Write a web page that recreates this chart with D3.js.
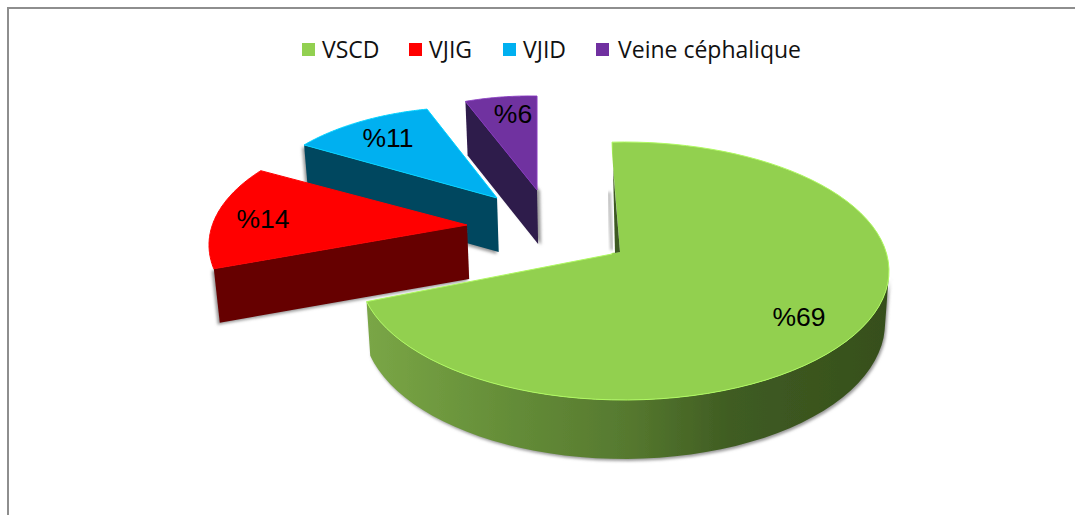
<!DOCTYPE html>
<html>
<head>
<meta charset="utf-8">
<script src="https://cdnjs.cloudflare.com/ajax/libs/d3/7.8.5/d3.min.js"></script>
<style>
html, body { margin: 0; padding: 0; background: #fff; }
svg { display: block; }
</style>
</head>
<body>
<svg id="chart" width="1075" height="515"></svg>
<script>
var categories = ["VSCD", "VJIG", "VJID", "Veine céphalique"];
var values = [69, 14, 11, 6];
var colors = ["#92d050", "#ff0000", "#00b0f0", "#7030a0"];
var wallColors = ["#3d5a20", "#660000", "#00465f", "#2f1a4c"];

// how each slice sits in the fake 3d scene: where its tip is pulled to,
// and the ellipse its rim lies on (the centre is relative to the tip)
var tips = [[612, 254], [467, 225], [497, 198], [537, 190]];
var rims = [
    {dx: 12, dy: 17, rx: 265, ry: 129, squash: 0.49, turn: 0},
    {dx: -8, dy: 20, rx: 250, ry: 122, squash: 0.46, turn: 1},
    {dx: -27, dy: 17, rx: 218, ry: 108, squash: 0.49, turn: 0.5},
    {dx: -7, dy: -3, rx: 190, ry: 91, squash: 0.49, turn: 0}
];
var depth = 54;

var svg = d3.select("#chart");
var defs = svg.append("defs");

var grad = defs.append("linearGradient").attr("id", "greenWall")
    .attr("gradientUnits", "userSpaceOnUse")
    .attr("x1", 366).attr("x2", 888).attr("y1", 0).attr("y2", 0);
[[0, "#7aa646"], [0.25, "#668f39"], [0.5, "#56792f"], [0.7, "#3f5c22"], [1, "#364f1c"]].forEach(function(s) {
    grad.append("stop").attr("offset", s[0]).attr("stop-color", s[1]);
});
defs.append("filter").attr("id", "soft").append("feGaussianBlur").attr("stdDeviation", 0.5);
defs.append("filter").attr("id", "shadow").append("feGaussianBlur").attr("stdDeviation", 1.5);

// frame, open on the right and at the bottom
svg.append("path")
    .attr("d", "M8,515V8H1075")
    .attr("fill", "none")
    .attr("stroke", "#8e8e8e")
    .attr("stroke-width", 2);

var pie = d3.pie().sort(null)(values);
var line = d3.line();

// point on the rim for a pie angle: ray from the tip hits the ellipse
var rimPoint = function(i, a) {
    var t = tips[i], r = rims[i];
    var b = a + r.turn * Math.PI / 180;
    var ux = Math.sin(b), uy = -Math.cos(b) * r.squash;
    var A = ux * ux / (r.rx * r.rx) + uy * uy / (r.ry * r.ry);
    var B = -2 * (ux * r.dx / (r.rx * r.rx) + uy * r.dy / (r.ry * r.ry));
    var C = r.dx * r.dx / (r.rx * r.rx) + r.dy * r.dy / (r.ry * r.ry) - 1;
    var s = (-B + Math.sqrt(B * B - 4 * A * C)) / (2 * A);
    return [t[0] + ux * s, t[1] + uy * s];
};

// same point on the bottom of the slab, pulled to the middle, nearer means deeper
var lower = function(p) {
    return [p[0] + (tips[0][0] - p[0]) * 0.015, p[1] + depth + Math.max(0, p[1] - 300) * 0.05];
};

var rimPoints = function(i, a0, a1) {
    return d3.range(0, 81).map(function(k) {
        return rimPoint(i, a0 + (a1 - a0) * k / 80);
    });
};

var order = [3, 2, 1, 0];
order.forEach(function(i) {
    var d = pie[i];
    var g = svg.append("g").attr("class", "slice").attr("filter", "url(#soft)");
    var outer = rimPoints(i, d.startAngle, d.endAngle);
    var tip = tips[i];

    if (i > 0) {
        // wall along the cut that faces the viewer
        var a = rimPoint(i, d.startAngle);
        var wall = [tip, a, lower(a), lower(tip)];
        g.append("path").attr("d", line(wall) + "Z")
            .attr("fill", "#9a9a9a")
            .attr("transform", i === 3 ? "translate(3,1)" : "translate(-2,2)")
            .attr("filter", "url(#shadow)");
        g.append("path").attr("d", line(wall) + "Z").attr("fill", wallColors[i]);
    } else {
        // outer wall of the big slice
        var cy = tip[1] + rims[0].dy;
        var vis = outer.filter(function(p) { return p[1] >= cy; });
        var low = vis.map(lower).reverse();
        g.append("path").attr("d", line(vis.concat(low)) + "Z")
            .attr("fill", "#9a9a9a").attr("transform", "translate(1.5,2)")
            .attr("filter", "url(#shadow)");
        g.append("path").attr("d", line(vis.concat(low)) + "Z").attr("fill", "url(#greenWall)");
    }

    // top face
    g.append("path")
        .attr("d", line([tip].concat(outer)) + "Z")
        .attr("fill", colors[i])
        .attr("stroke", d3.color(colors[i]).brighter(0.5))
        .attr("stroke-width", 1)
        .attr("stroke-linejoin", "round");

    if (i === 0) {
        // the first cut leans inward, so a thin dark strip shows beside the tip
        var top0 = rimPoint(0, 0);
        g.append("path")
            .attr("d", line([[top0[0] - 1, top0[1] - 1], [tip[0] + 8, tip[1] - 2], [tip[0] - 1, tip[1] - 1]]) + "Z")
            .attr("fill", "#fff");
        g.append("path")
            .attr("d", line([[tip[0] - 3, tip[1] - 62], [tip[0], tip[1] - 4]]))
            .attr("fill", "none").attr("stroke", "#b0b0b0").attr("stroke-width", 3)
            .attr("filter", "url(#shadow)");
        g.append("path")
            .attr("d", line([[top0[0] + 1, top0[1] + 26], [tip[0] + 8, tip[1] - 2], [tip[0] + 3, tip[1] - 1]]) + "Z")
            .attr("fill", wallColors[0]);
    }
});

// labels
var labelSpots = [[799, 317], [263, 219], [388, 138], [513, 114]];
svg.append("g").selectAll("text").data(values).enter().append("text")
    .attr("x", function(d, i) { return labelSpots[i][0]; })
    .attr("y", function(d, i) { return labelSpots[i][1] + 9; })
    .attr("text-anchor", "middle")
    .attr("font-family", "Liberation Sans")
    .attr("font-size", 26.5)
    .attr("fill", "#000")
    .text(function(d) { return "%" + d; });

// legend
var legendX = [302, 409, 503, 596];
var legend = svg.append("g").selectAll("g").data(categories).enter().append("g")
    .attr("transform", function(d, i) { return "translate(" + legendX[i] + ",0)"; });
legend.append("rect")
    .attr("y", 43).attr("width", 13).attr("height", 13)
    .attr("fill", function(d, i) { return colors[i]; });
legend.append("text")
    .attr("x", function(d, i) { return i === 3 ? 22 : 20; }).attr("y", 58)
    .attr("font-family", "Open Sans")
    .attr("font-size", 23)
    .attr("fill", "#111")
    .text(function(d) { return d; });
</script>
</body>
</html>
